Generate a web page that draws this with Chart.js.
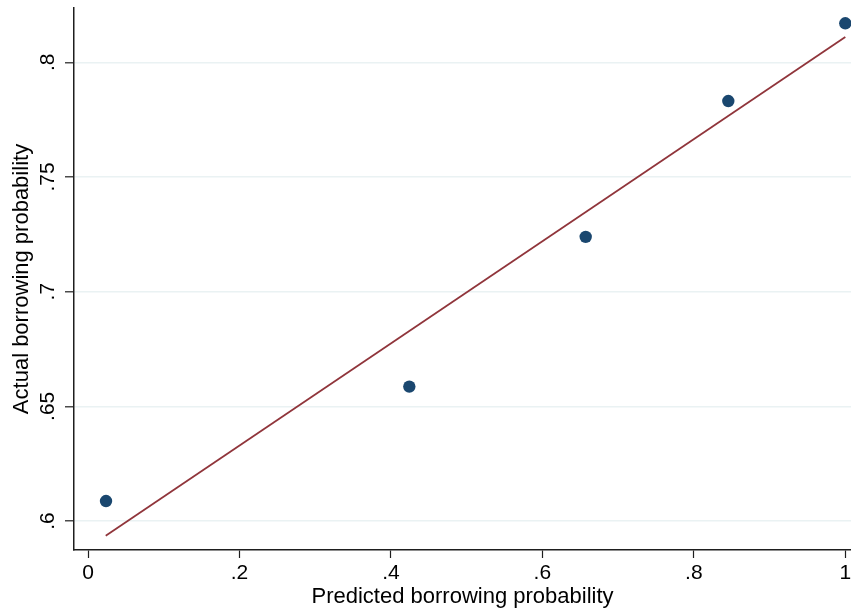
<!DOCTYPE html>
<html>
<head>
<meta charset="utf-8">
<script src="https://cdn.jsdelivr.net/npm/chart.js@4"></script>
<style>
  html, body { margin: 0; padding: 0; background: #ffffff; overflow: hidden; }
  canvas { display: block; }
</style>
</head>
<body>
<canvas id="chart" width="851" height="614"></canvas>
<script>
// Binned borrowing probabilities: predicted (x) vs. actual (y)
const predicted = [0.0238, 0.4243, 0.6572, 0.8455, 1.0];
const actual    = [0.6087, 0.6586, 0.7239, 0.7831, 0.8170];

// Fitted line end points
const fitX = [0.0234, 1.0];
const fitY = [0.5936, 0.8110];

// Axis ticks
const xTickValues = [0, 0.2, 0.4, 0.6, 0.8, 1];
const xTickLabels = ['0', '.2', '.4', '.6', '.8', '1'];
const yTickValues = [0.6, 0.65, 0.7, 0.75, 0.8];
const yTickLabels = ['.6', '.65', '.7', '.75', '.8'];

const FONT = '"Liberation Sans", Arial, Helvetica, sans-serif';
const NAVY = '#1a476f';
const MAROON = '#90353b';
const GRID = '#eaf2f3';
const AXIS = '#1e1e1e';

const scatterPts = predicted.map((x, i) => ({ x: x, y: actual[i] }));
const fitPts = fitX.map((x, i) => ({ x: x, y: fitY[i] }));

const labelFor = (values, labels) => (v) => {
  const i = values.findIndex(t => Math.abs(t - v) < 1e-9);
  return i >= 0 ? labels[i] : '';
};

new Chart(document.getElementById('chart'), {
  type: 'scatter',
  data: {
    datasets: [
      {
        label: 'Fitted values',
        data: fitPts,
        showLine: true,
        borderColor: MAROON,
        borderWidth: 1.8,
        pointRadius: 0,
        fill: false,
        order: 2
      },
      {
        label: 'Actual borrowing probability',
        data: scatterPts,
        backgroundColor: NAVY,
        borderColor: NAVY,
        borderWidth: 0,
        pointRadius: 6.2,
        order: 1
      }
    ]
  },
  options: {
    responsive: false,
    animation: false,
    events: [],
    layout: { autoPadding: false, padding: { top: 8, right: 0, bottom: 0, left: 0 } },
    plugins: {
      legend: { display: false },
      tooltip: { enabled: false }
    },
    scales: {
      x: {
        type: 'linear',
        min: -0.01849,
        max: 1.00753,
        afterBuildTicks: (axis) => { axis.ticks = xTickValues.map(v => ({ value: v })); },
        afterFit: (axis) => {
          axis.height = 64;
          axis.paddingLeft = 0;
          axis.paddingRight = 0;
        },
        grid: {
          drawOnChartArea: false,
          drawTicks: true,
          tickLength: 8,
          tickColor: AXIS,
          tickWidth: 1.2
        },
        border: { display: true, color: AXIS, width: 1.5 },
        ticks: {
          padding: 2.5,
          color: '#000',
          font: { family: FONT, size: 21 },
          maxRotation: 0,
          minRotation: 0,
          callback: labelFor(xTickValues, xTickLabels)
        },
        title: {
          display: true,
          text: 'Predicted borrowing probability',
          color: '#000',
          font: { family: FONT, size: 22 },
          padding: { top: 0, bottom: 4 }
        }
      },
      y: {
        type: 'linear',
        min: 0.58736,
        max: 0.82368,
        afterBuildTicks: (axis) => { axis.ticks = yTickValues.map(v => ({ value: v })); },
        afterFit: (axis) => {
          axis.width = 74;
          axis.paddingTop = 0;
          axis.paddingBottom = 0;
        },
        grid: {
          drawOnChartArea: true,
          drawTicks: true,
          color: GRID,
          lineWidth: 1.6,
          tickLength: 9,
          tickColor: AXIS,
          tickWidth: 1.2
        },
        border: { display: true, color: AXIS, width: 1.5 },
        ticks: {
          padding: 2,
          crossAlign: 'center',
          minRotation: 90,
          maxRotation: 90,
          color: '#000',
          font: { family: FONT, size: 21 },
          callback: labelFor(yTickValues, yTickLabels)
        },
        title: {
          display: true,
          text: 'Actual borrowing probability',
          color: '#000',
          font: { family: FONT, size: 22 },
          padding: { top: 9, bottom: 0 }
        }
      }
    }
  }
});
</script>
</body>
</html>
